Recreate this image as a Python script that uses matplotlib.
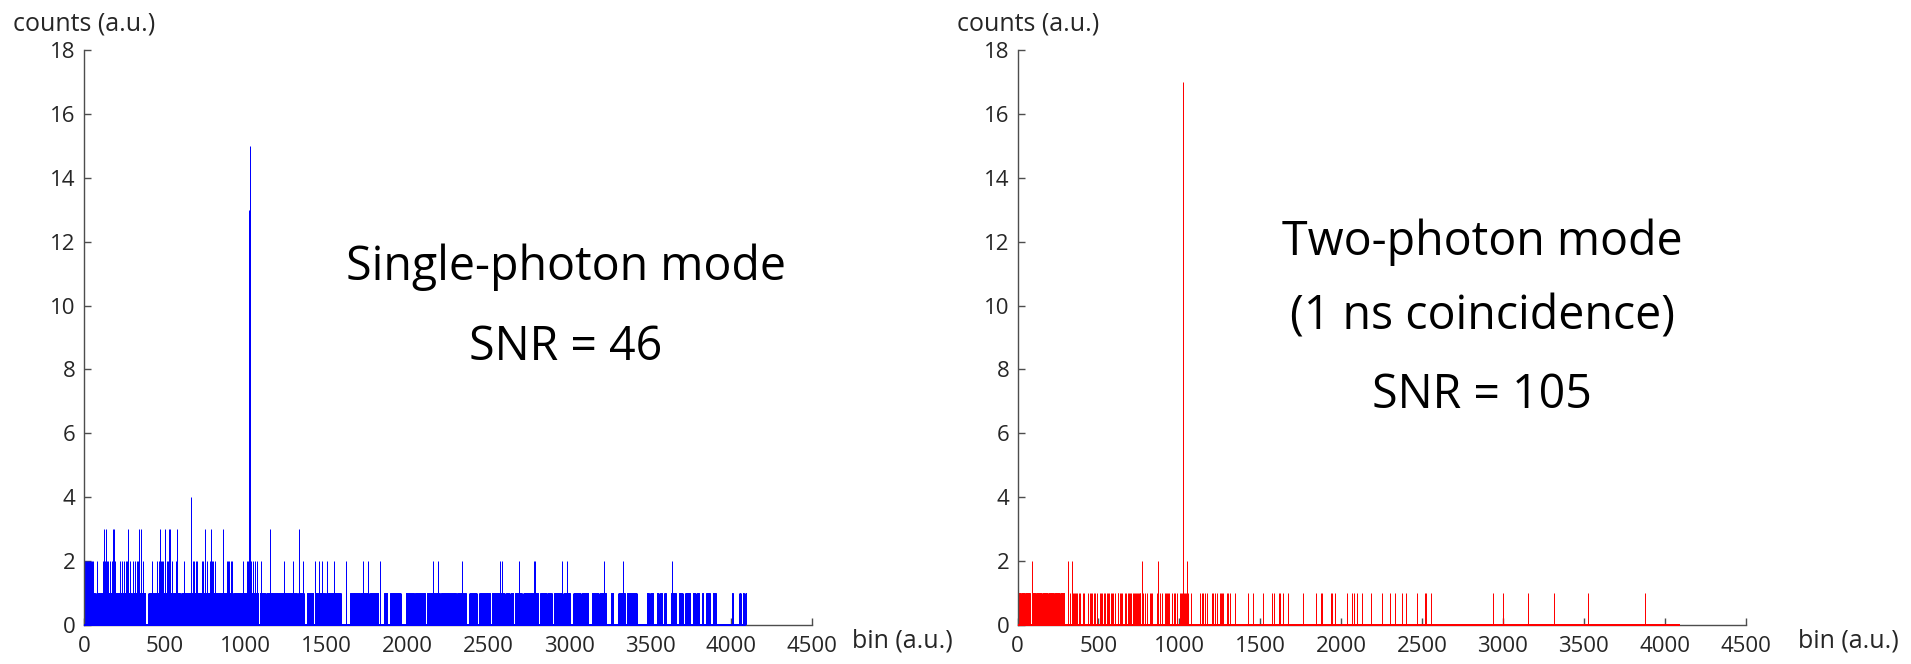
import numpy as np
import matplotlib
matplotlib.use("Agg")
import matplotlib.pyplot as plt

N_BINS = 4096

# ---------------- Single-photon mode (blue) ----------------
left_one_runs = [
    (0, 68), (76, 296), (303, 380), (398, 594), (601, 920), (926, 1078),
    (1085, 1120), (1127, 1290), (1297, 1316), (1323, 1358), (1377, 1418),
    (1428, 1450), (1456, 1490), (1496, 1587), (1644, 1706), (1710, 1760),
    (1766, 1819), (1854, 1875), (1891, 1957), (1988, 2040), (2046, 2108),
    (2118, 2200), (2206, 2300), (2306, 2361), (2382, 2427), (2443, 2510),
    (2520, 2571), (2576, 2600), (2608, 2629), (2636, 2654), (2664, 2706),
    (2716, 2808), (2819, 2860), (2866, 2891), (2905, 2953), (2963, 3004),
    (3025, 3070), (3076, 3118), (3138, 3180), (3186, 3227), (3256, 3272),
    (3303, 3344), (3354, 3416), (3478, 3492), (3500, 3519), (3540, 3552),
    (3560, 3573), (3587, 3597), (3628, 3659), (3676, 3700), (3717, 3746),
    (3762, 3780), (3788, 3803), (3820, 3828), (3845, 3869), (3886, 3906),
    (4005, 4011), (4051, 4059), (4071, 4079), (4088, 4095),
]
left_two_bins = [
    3, 9, 14, 19, 27, 33, 40, 46, 52, 58, 79, 120, 130, 140, 151, 160, 170,
    181, 192, 223, 232, 245, 257, 264, 274, 285, 305, 315, 326, 336, 367,
    423, 454, 462, 474, 483, 491, 510, 521, 542, 569, 618, 662, 672, 680,
    690, 697, 727, 738, 750, 758, 779, 790, 800, 810, 857, 882, 890, 898,
    906, 913, 985, 1006, 1015, 1035, 1045, 1055, 1067, 1092, 1150, 1236,
    1290, 1352, 1426, 1455, 1471, 1500, 1545, 1619, 1722, 1757, 1830, 2159,
    2190, 2338, 2572, 2582, 2691, 2781, 2790, 2957, 2988, 3214, 3334, 3633,
]
left_three_bins = [124, 136, 177, 188, 270, 340, 350, 470, 501, 523, 532,
                   573, 748, 783, 861, 1147, 1331]
left_peak_bins = [659, 1023, 1024]
left_peak_counts = [4, 13, 15]

# ---------------- Two-photon mode (red) ----------------
right_one_runs = [(3, 20), (24, 45), (49, 77), (88, 110), (115, 150),
                  (155, 185), (190, 225), (230, 260), (265, 289)]
right_one_bins = [
    324, 345, 351, 355, 362, 370, 378, 386, 407, 411, 438, 447, 455, 463,
    470, 478, 489, 510, 517, 524, 534, 541, 551, 561, 568, 576, 584, 592,
    603, 619, 624, 632, 640, 648, 664, 672, 680, 688, 695, 701, 716, 722,
    728, 735, 740, 745, 750, 755, 760, 773, 788, 798, 819, 826, 833, 860,
    866, 880, 891, 911, 918, 925, 932, 936, 957, 965, 973, 983, 1004, 1010,
    1016, 1020, 1030, 1035, 1040, 1050, 1056, 1072, 1128, 1138, 1148, 1159,
    1169, 1200, 1210, 1220, 1231, 1251, 1258, 1266, 1272, 1293, 1303, 1313,
    1344, 1427, 1458, 1519, 1571, 1585, 1616, 1622, 1643, 1674, 1767, 1843,
    1876, 1884, 1935, 1946, 1962, 2034, 2065, 2080, 2100, 2131, 2183, 2255,
    2302, 2333, 2378, 2401, 2469, 2518, 2527, 2553, 2941, 2998, 3153, 3316,
    3524, 3878,
]
right_peak_bins = [92, 314, 335, 767, 870, 1025, 1026, 1045]
right_peak_counts = [2, 2, 2, 2, 2, 17, 7, 2]

x_ticks = [0, 500, 1000, 1500, 2000, 2500, 3000, 3500, 4000, 4500]
y_ticks = [0, 2, 4, 6, 8, 10, 12, 14, 16, 18]

left_text = ["Single-photon mode", "SNR = 46"]
right_text = ["Two-photon mode", "(1 ns coincidence)", "SNR = 105"]


def build_counts(runs, singles, peak_groups):
    c = np.zeros(N_BINS)
    for a, b in runs:
        c[a:b + 1] = 1
    for s in singles:
        c[s] = 1
    for bins, vals in peak_groups:
        for b, v in zip(bins, vals):
            c[b] = v
    return c


left_counts = build_counts(
    left_one_runs, [],
    [(left_two_bins, [2] * len(left_two_bins)),
     (left_three_bins, [3] * len(left_three_bins)),
     (left_peak_bins, left_peak_counts)])
right_counts = build_counts(right_one_runs, right_one_bins,
                            [(right_peak_bins, right_peak_counts)])

W, H = 1911, 664
fig = plt.figure(figsize=(W / 100, H / 100), dpi=100)
FONT = "Open Sans"
TXT = "#262626"
AX = "#4d4d4d"

PX = 72 / 100  # points per pixel


def setup(ax):
    ax.set_xlim(0, 4500)
    ax.set_ylim(0, 18)
    ax.set_xticks(x_ticks)
    ax.set_yticks(y_ticks)
    for s in ("top", "right"):
        ax.spines[s].set_visible(False)
    for s in ("left", "bottom"):
        ax.spines[s].set_color(AX)
        ax.spines[s].set_linewidth(1.4 * PX)
    ax.tick_params(direction="in", length=7 * PX, width=1.4 * PX, color=AX,
                   labelsize=16, labelcolor=TXT)
    ax.tick_params(axis="x", pad=8)
    ax.tick_params(axis="y", pad=6)
    for lab in ax.get_xticklabels() + ax.get_yticklabels():
        lab.set_fontfamily(FONT)


def draw(ax, counts, color):
    idx = np.nonzero(counts)[0]
    ax.vlines(idx, 0, counts[idx], color=color, lw=1.0 * PX, zorder=2)
    ax.plot([0, N_BINS - 1], [0, 0], color=color, lw=2.0 * PX, zorder=3,
            solid_capstyle="butt", clip_on=False)


axL = fig.add_axes([84 / W, 39 / H, 728 / W, 575 / H])
axR = fig.add_axes([1017.5 / W, 39 / H, 728 / W, 575 / H])
for ax, counts, color in ((axL, left_counts, "#0000ff"),
                          (axR, right_counts, "#ff0000")):
    draw(ax, counts, color)
    setup(ax)

# axis titles
fig.text(13 / W, 1 - 24 / H, "counts (a.u.)", fontsize=18, color=TXT,
         family=FONT, ha="left", va="center")
fig.text(957 / W, 1 - 24 / H, "counts (a.u.)", fontsize=18, color=TXT,
         family=FONT, ha="left", va="center")
fig.text(852 / W, 1 - 641 / H, "bin (a.u.)", fontsize=18, color=TXT,
         family=FONT, ha="left", va="center")
fig.text(1798 / W, 1 - 641 / H, "bin (a.u.)", fontsize=18, color=TXT,
         family=FONT, ha="left", va="center")

# annotations
for txt, y in zip(left_text, [267, 347]):
    fig.text(566 / W, 1 - y / H, txt, fontsize=33.5, color="black",
             family=FONT, ha="center", va="center")
for txt, y in zip(right_text, [242, 317, 395]):
    fig.text(1482 / W, 1 - y / H, txt, fontsize=33.5, color="black",
             family=FONT, ha="center", va="center")

fig.savefig("out.png", dpi=100)
